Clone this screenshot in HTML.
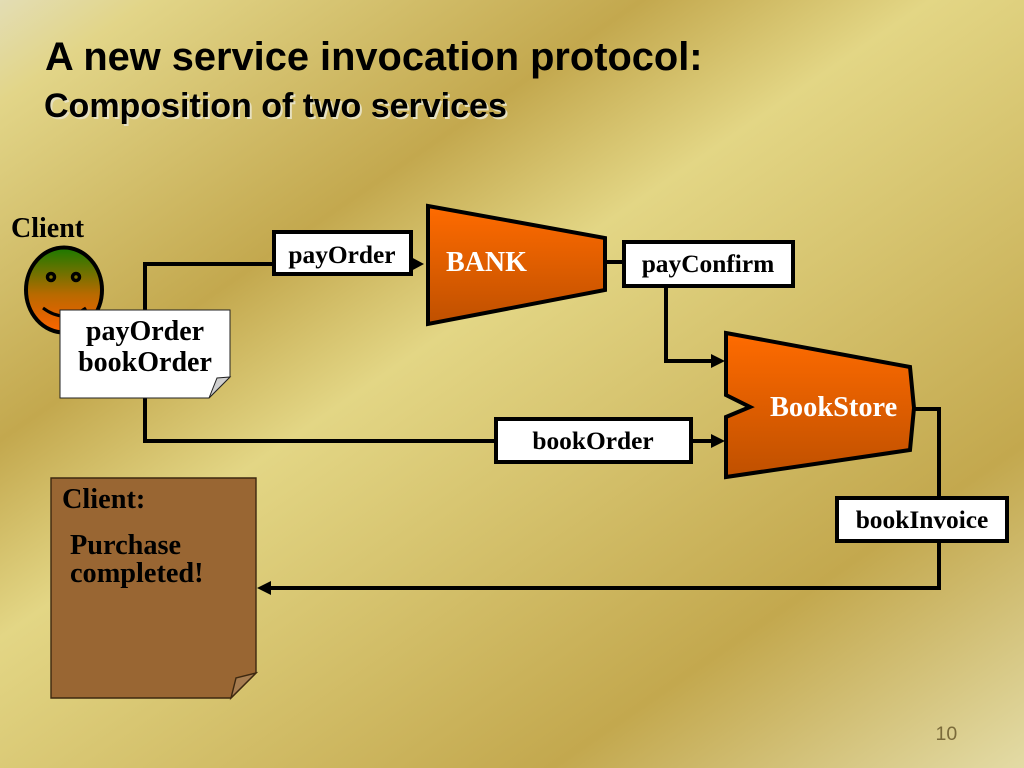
<!DOCTYPE html>
<html><head><meta charset="utf-8"><style>
html,body{margin:0;padding:0}
body{width:1024px;height:768px;overflow:hidden;position:relative;
background:linear-gradient(145.6deg,#e3ddb4 0%,#e2d588 7%,#c3a84e 30%,#e3d685 43.4%,#c3a84e 78%,#e3dba5 100%)}
svg{position:absolute;left:0;top:0}
.s{font-family:"Liberation Sans",sans-serif;font-weight:bold;fill:#000}
.t{font-family:"Liberation Serif",serif;font-weight:bold;fill:#000}
</style></head><body>
<svg width="1024" height="768" viewBox="0 0 1024 768">
<defs>
<linearGradient id="o" x1="0" y1="0" x2="0" y2="1"><stop offset="0" stop-color="#ff6b00"/><stop offset="1" stop-color="#bf5000"/></linearGradient>
<linearGradient id="f" x1="0" y1="0" x2="0" y2="1"><stop offset="0" stop-color="#1a7a00"/><stop offset=".55" stop-color="#b86a00"/><stop offset=".8" stop-color="#e06400"/><stop offset="1" stop-color="#ff6600"/></linearGradient>
</defs>
<text class="s" x="45" y="70" font-size="39.8">A new service invocation protocol:</text>
<text class="s" x="46" y="119" font-size="34" style="fill:#e6e0c0">Composition of two services</text>
<text class="s" x="44" y="117" font-size="34">Composition of two services</text>

<text class="t" x="11" y="237" font-size="28">Client</text>
<ellipse cx="64" cy="290" rx="38" ry="42.5" fill="url(#f)" stroke="#000" stroke-width="4"/>
<circle cx="51" cy="277" r="3.5" fill="none" stroke="#000" stroke-width="3.5"/>
<circle cx="76" cy="277" r="3.5" fill="none" stroke="#000" stroke-width="3.5"/>
<path d="M43 308Q64 324 86 308" fill="none" stroke="#000" stroke-width="3"/>

<g fill="none" stroke="#000" stroke-width="4">
<path d="M145 320V264H274"/>
<path d="M145 390V441H496"/>
<path d="M412 264H418"/>
<path d="M604 262H624"/>
<path d="M666 285V361H712"/>
<path d="M691 441H712"/>
<path d="M913 409H939V498"/>
<path d="M939 541V588H270"/>
</g>
<g fill="#000">
<path d="M424 264L411 257V271Z"/>
<path d="M725 361L711 354V368Z"/>
<path d="M725 441L711 434V448Z"/>
<path d="M257 588L271 581V595Z"/>
</g>

<path d="M428 206L605 238V290L428 324Z" fill="url(#o)" stroke="#000" stroke-width="4"/>
<text class="t" x="446" y="271" font-size="28" style="fill:#fff">BANK</text>

<path d="M726 333L910 367L914 408L910 450L726 477V417L750 407L726 395Z" fill="url(#o)" stroke="#000" stroke-width="4"/>
<text class="t" x="770" y="416" font-size="28.4" style="fill:#fff">BookStore</text>

<g fill="#fff" stroke="#000" stroke-width="4">
<rect x="274" y="232" width="137" height="42"/>
<rect x="624" y="242" width="169" height="44"/>
<rect x="496" y="419" width="195" height="43"/>
<rect x="837" y="498" width="170" height="43"/>
</g>
<text class="t" x="342" y="263" font-size="25.4" text-anchor="middle">payOrder</text>
<text class="t" x="708" y="272" font-size="25.4" text-anchor="middle">payConfirm</text>
<text class="t" x="593" y="449" font-size="25.4" text-anchor="middle">bookOrder</text>
<text class="t" x="922" y="528" font-size="25.4" text-anchor="middle">bookInvoice</text>

<path d="M60 310H230V377L209 398H60Z" fill="#fff" stroke="#222" stroke-width="1"/>
<path d="M209 398L217 378L230 377Z" fill="#cfcfcf" stroke="#222" stroke-width="1"/>
<text class="t" x="145" y="340" font-size="28" text-anchor="middle">payOrder</text>
<text class="t" x="145" y="371" font-size="28" text-anchor="middle">bookOrder</text>

<path d="M51 478H256V673L231 698H51Z" fill="#996633" stroke="#3d2810" stroke-width="1.4"/>
<path d="M231 698L236 678L256 673Z" fill="#a67c50" stroke="#3d2810" stroke-width="1.4"/>
<text class="t" x="62" y="508" font-size="28.3">Client:</text>
<text class="t" x="70" y="554" font-size="28.3">Purchase</text>
<text class="t" x="70" y="582" font-size="28.3">completed!</text>

<text x="935.5" y="740" font-size="19.5" font-family="Liberation Sans, sans-serif" fill="#7a6a3a">10</text>
</svg>
</body></html>
